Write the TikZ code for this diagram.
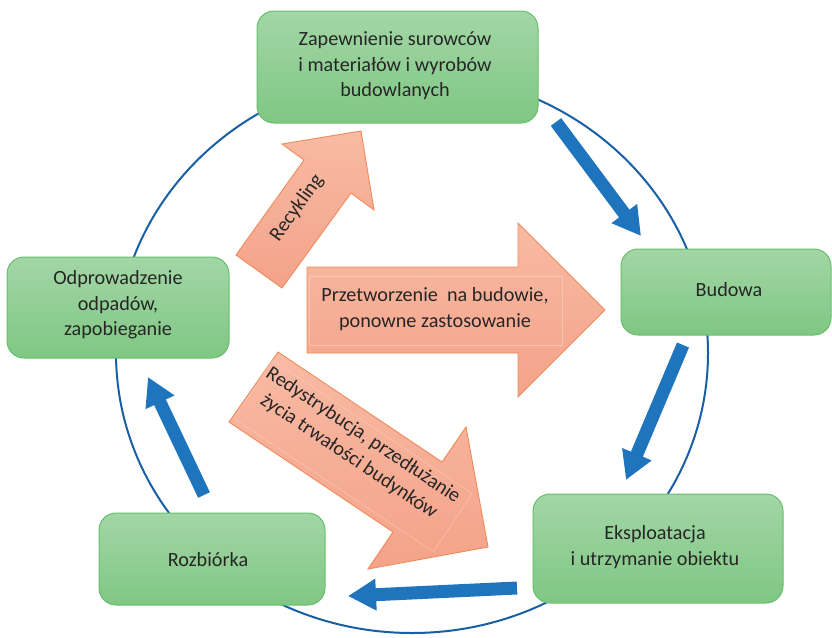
\documentclass[tikz,border=0pt]{standalone}
\usepackage{fontspec}
\setmainfont{Carlito}
\usetikzlibrary{arrows.meta}
\definecolor{txt}{RGB}{38,38,38}
\definecolor{gtop}{RGB}{163,214,166}
\definecolor{gbot}{RGB}{127,199,131}
\definecolor{gline}{RGB}{104,190,108}
\definecolor{stop}{RGB}{249,186,164}
\definecolor{sbot}{RGB}{243,163,137}
\definecolor{sline}{RGB}{240,138,88}
\definecolor{sinner}{RGB}{252,205,190}
\definecolor{barrow}{RGB}{30,117,190}
\definecolor{ring}{RGB}{25,95,165}
\tikzset{
  box/.style={draw=gline, line width=1pt, rounded corners=17pt, top color=gtop, bottom color=gbot},
  boxtext/.style={text=txt, align=center, font=\fontsize{20.2}{25.5}\selectfont},
  bigarrow/.style={draw=sline, line width=0.9pt, top color=stop, bottom color=sbot, line join=miter},
  innerbox/.style={draw=sinner, draw opacity=0.7, line width=0.5pt},
  flow/.style={barrow, line width=13pt, -{Triangle[width=30pt,length=28pt]}},
}
\begin{document}
\begin{tikzpicture}[x=1pt,y=-1pt]
\useasboundingbox (0,0) rectangle (832,637);
% ring
\draw[ring, line width=2pt] (412,353) ellipse [x radius=296, y radius=280];
% salmon arrows
\draw[bigarrow] (236,255) -- (304,160) -- (282,144) -- (361,131) -- (374,210) -- (351,193) -- (282,288) -- cycle;
\node[boxtext, rotate=54.4] (rec) at (297,208) {Recykling};
\draw[bigarrow] (307,267) -- (518,267) -- (518,223) -- (605,310) -- (518,397) -- (518,353) -- (307,353) -- cycle;
\draw[innerbox] (309,276) rectangle (562,345);
\node[boxtext] (prz) at (435,309) {Przetworzenie\ \ na budowie,\\ponowne zastosowanie};
\draw[bigarrow] (278,352) -- (442,462) -- (466,427) -- (488,547) -- (368,569) -- (393,532) -- (229,422) -- cycle;
\node[innerbox, rotate=-33.8, minimum width=240pt, minimum height=70pt] (redbox) at (353,456) {};
\node[boxtext, rotate=-33.8] (red) at (356,446) {Redystrybucja, przedłużanie\\życia trwałości budynków};
% blue arrows
\coordinate (a1s) at (556,122); \coordinate (a1e) at (641,236);
\coordinate (a2s) at (683,345); \coordinate (a2e) at (626,480);
\coordinate (a3s) at (517,588); \coordinate (a3e) at (348,596);
\coordinate (a4s) at (204,495); \coordinate (a4e) at (148,377);
\draw[flow] (a1s) -- (a1e);
\draw[flow] (a2s) -- (a2e);
\draw[flow] (a3s) -- (a3e);
\draw[flow] (a4s) -- (a4e);
% boxes
\draw[box] (257,11) rectangle (538,123);
\node[boxtext] (top) at (395,66) {Zapewnienie surowców\\i materiałów i wyrobów\\budowlanych};
\draw[box] (621,249) rectangle (831,335);
\node[boxtext] (bud) at (729,290) {Budowa};
\draw[box] (533,494) rectangle (783,603);
\node[boxtext] (eks) at (655,547) {Eksploatacja\\i utrzymanie obiektu};
\draw[box] (99,513) rectangle (325,605);
\node[boxtext] (roz) at (208,560) {Rozbiórka};
\draw[box] (7,257) rectangle (229,358);
\node[boxtext] (odp) at (118,305) {Odprowadzenie\\odpadów,\\zapobieganie};
\end{tikzpicture}
\end{document}
